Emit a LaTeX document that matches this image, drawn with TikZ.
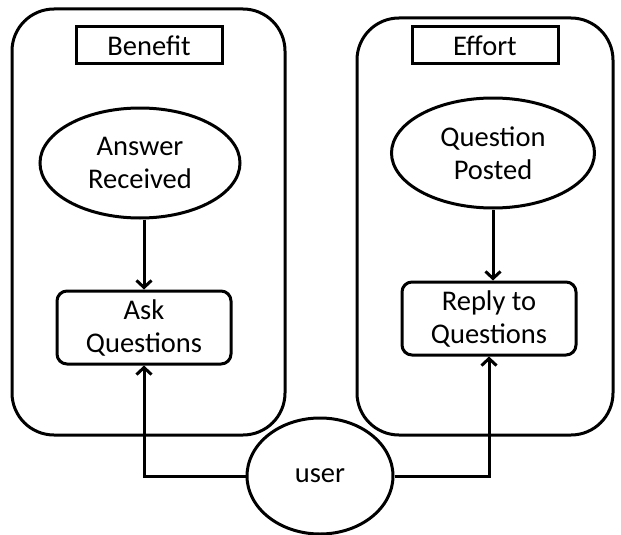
\documentclass[tikz,border=0pt]{standalone}
\usepackage{fontspec}
\setmainfont{Carlito}
\usetikzlibrary{shapes.geometric,arrows.meta}
\begin{document}
\begin{tikzpicture}[x=1pt,y=-1pt,
  every node/.style={font=\fontsize{28.5}{33}\selectfont, align=center, inner sep=0pt},
  container/.style={draw, line width=3pt, rounded corners=42pt},
  titlebox/.style={draw, line width=3pt, minimum width=146pt, minimum height=37pt},
  oval/.style={draw, ellipse, line width=3pt},
  actbox/.style={draw, line width=3pt, rounded corners=10pt, minimum width=174pt, minimum height=73pt},
  conn/.style={line width=3pt, -{Straight Barb[length=7pt,width=15pt,line width=3pt]}}]
\useasboundingbox (0,0) rectangle (621,535);
\draw[container] (12,9) rectangle (285,435);
\draw[container] (357,18) rectangle (613,435);
\node[titlebox] (benefit) at (149,45.5) {Benefit};
\node[titlebox] (effort) at (485,45.5) {Effort};
\node[oval, minimum width=200pt, minimum height=110pt] (ans) at (140,163) {Answer\\Received};
\node[oval, minimum width=203pt, minimum height=110pt] (qp) at (493,153) {Question\\Posted};
\node[actbox] (ask) at (144,327.5) {Ask\\Questions};
\node[actbox] (reply) at (489,318.5) {Reply to\\Questions};
\node[oval, fill=white, minimum width=146pt, minimum height=116pt] (user) at (320,476) {user};
\draw[conn] (ans.south -| 144,0) -- (ask.north -| 144,0);
\draw[conn] (qp.south -| 493,0) -- (reply.north -| 493,0);
\draw[conn] (user.west) -| (ask.south);
\draw[conn] (user.east) -| (reply.south);
\end{tikzpicture}
\end{document}
